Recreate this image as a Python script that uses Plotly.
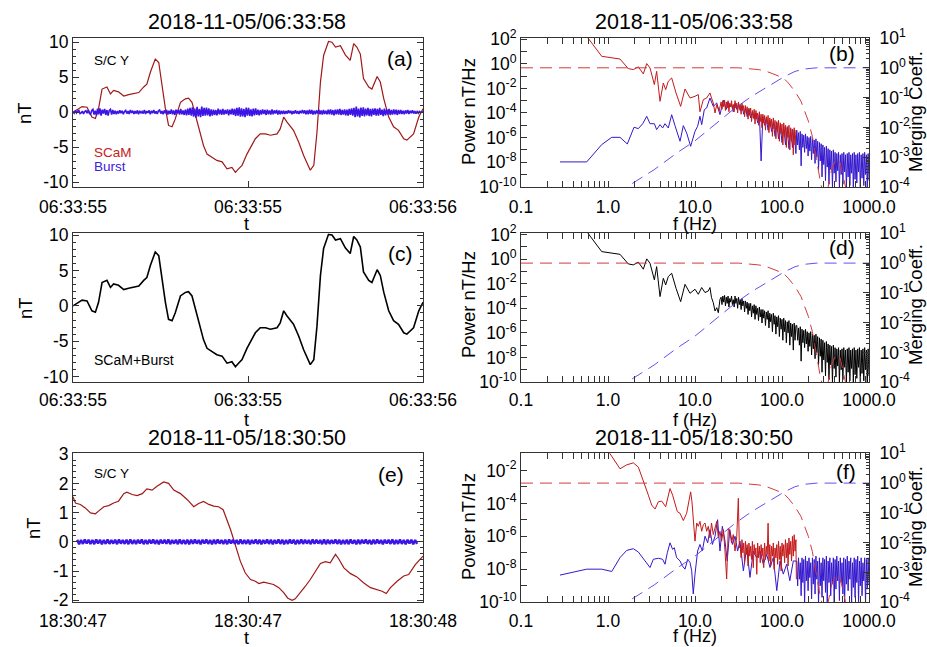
import numpy as np
import plotly.graph_objects as go

# ---------------- data ----------------
# Panel (a)/(c): 2018-11-05/06:33:55 interval, S/C Y component, nT
scam_a_t = [0, 0.026, 0.04, 0.054, 0.064, 0.073, 0.083, 0.097, 0.107, 0.116,
            0.13, 0.145, 0.159, 0.173, 0.188, 0.202, 0.211, 0.221, 0.235, 0.245,
            0.254, 0.264, 0.273, 0.283, 0.292, 0.307, 0.321, 0.33, 0.34, 0.35,
            0.364, 0.373, 0.383, 0.397, 0.411, 0.426, 0.44, 0.454, 0.464, 0.473,
            0.483, 0.497, 0.511, 0.521, 0.535, 0.55, 0.564, 0.583, 0.592, 0.602,
            0.611, 0.63, 0.645, 0.659, 0.678, 0.688, 0.697, 0.707, 0.716, 0.73,
            0.74, 0.75, 0.764, 0.778, 0.792, 0.802, 0.811, 0.821, 0.83, 0.845,
            0.854, 0.869, 0.878, 0.888, 0.902, 0.916, 0.93, 0.945, 0.954, 0.973,
            0.988, 1.0]
scam_a_nT = [0, 0.8, 0.7, -0.7, -0.9, 0.5, 3.3, 3.6, 2.6, 3.1,
             2.9, 2.3, 2.5, 2.6, 2.8, 3.6, 4.0, 5.7, 7.6, 7.1,
             3.8, 0.5, -1.9, -2.1, -1.0, 1.4, 1.9, 2.0, 1.4, -0.5,
             -3.3, -4.8, -6.0, -6.4, -6.9, -7.1, -8.1, -7.9, -8.6, -8.1,
             -7.6, -6.0, -4.8, -3.8, -3.1, -3.1, -3.3, -3.1, -2.4, -0.7,
             -1.4, -2.6, -4.3, -6.2, -8.3, -7.6, -2.9, 4.3, 8.1, 10.1,
             10.0, 9.3, 9.5, 8.2, 7.4, 9.8, 9.3, 8.3, 4.8, 3.6,
             3.3, 5.1, 4.3, 1.9, -0.7, -2.1, -2.6, -3.8, -4.0, -3.1,
             -0.7, 0.5]
burst_a_nT = [
    0.05, -0.15, 0.2, -0.1, 0.15, 0.25, -0.2, -0.1, 0.15, -0.25, 0.1, 0.2, -0.15, 0.3, -0.2, -0.3, 0.25, 0.4, -0.35, 0.2,
    -0.45, 0.5, -0.3, 0.55, -0.5, 0.35, -0.2, 0.45, -0.4, 0.3, -0.5, 0.25, 0.4, -0.35, 0.3, -0.25, 0.2, -0.3, 0.15, -0.2,
    0.25, -0.15, 0.2, -0.3, 0.1, 0.25, -0.2, 0.15, -0.25, 0.3, -0.1, 0.2, -0.25, 0.15, -0.2, 0.25, -0.3, 0.2, -0.15, 0.1,
    -0.2, 0.3, -0.25, 0.15, -0.1, 0.25, -0.3, 0.2, -0.15, 0.3, -0.2, 0.1, -0.25, 0.2, 0.3, -0.2, 0.15, -0.3, 0.25, -0.15,
    0.3, -0.35, 0.2, -0.25, 0.4, -0.3, 0.25, -0.4, 0.35, -0.2, 0.3, -0.35, 0.45, -0.3, 0.25, -0.4, 0.35, -0.45, 0.5, -0.4,
    0.6, -0.5, 0.7, -0.65, 0.5, -0.8, 0.75, -0.6, 0.45, -0.7, 0.8, -0.55, 0.6, -0.5, 0.65, -0.45, 0.55, -0.6, 0.4, -0.5,
    0.35, -0.4, 0.3, -0.45, 0.5, -0.3, 0.35, -0.4, 0.45, -0.35, 0.3, -0.25, 0.4, -0.45, 0.35, -0.3, 0.5, -0.4, 0.45, -0.55,
    0.6, -0.5, 0.7, -0.65, 0.55, -0.6, 0.45, -0.7, 0.65, -0.5, 0.6, -0.55, 0.4, -0.6, 0.5, -0.45, 0.55, -0.4, 0.35, -0.45,
    0.3, -0.35, 0.4, -0.25, 0.3, -0.4, 0.35, -0.3, 0.25, -0.35, 0.4, -0.3, 0.25, -0.2, 0.3, -0.35, 0.25, -0.3, 0.2, -0.25,
    0.2, -0.25, 0.15, -0.2, 0.25, -0.15, 0.2, -0.3, 0.15, -0.2, 0.25, -0.2, 0.15, -0.25, 0.2, -0.15, 0.3, -0.2, 0.25, -0.3,
    0.25, -0.3, 0.35, -0.25, 0.3, -0.35, 0.2, -0.3, 0.25, -0.2, 0.35, -0.3, 0.25, -0.35, 0.3, -0.25, 0.2, -0.3, 0.35, -0.3,
    0.4, -0.35, 0.3, -0.45, 0.35, -0.3, 0.4, -0.35, 0.45, -0.4, 0.3, -0.35, 0.4, -0.45, 0.35, -0.5, 0.45, -0.4, 0.55, -0.5,
    0.6, -0.7, 0.8, -0.6, 0.5, -0.75, 0.65, -0.55, 0.7, -0.6, 0.5, -0.45, 0.6, -0.55, 0.45, -0.6, 0.5, -0.4, 0.55, -0.5,
    0.45, -0.5, 0.6, -0.4, 0.35, -0.55, 0.5, -0.45, 0.4, -0.35, 0.45, -0.4, 0.3, -0.35, 0.4, -0.3, 0.35, -0.4, 0.3, -0.25,
    0.3, -0.25, 0.2, -0.3, 0.25, -0.2, 0.3, -0.25, 0.2, -0.15, 0.25, -0.2, 0.15, -0.2, 0.1, -0.15, 0.1, -0.05, 0.05, 0.0]
# merged SCaM+Burst series (c) is indistinguishable from the SCaM trace at this scale
merged_c_t = scam_a_t
merged_c_nT = scam_a_nT

# Panel (e): 2018-11-05/18:30:47 interval
scam_e_t = [0, 0.007, 0.021, 0.035, 0.05, 0.064, 0.073, 0.088, 0.102, 0.116,
            0.13, 0.145, 0.154, 0.169, 0.183, 0.198, 0.211, 0.226, 0.24, 0.259,
            0.273, 0.288, 0.307, 0.326, 0.345, 0.359, 0.373, 0.388, 0.402, 0.416,
            0.429, 0.44, 0.45, 0.459, 0.469, 0.478, 0.492, 0.507, 0.521, 0.531,
            0.545, 0.559, 0.573, 0.588, 0.602, 0.613, 0.626, 0.635, 0.65, 0.664,
            0.678, 0.692, 0.707, 0.721, 0.735, 0.75, 0.759, 0.774, 0.792, 0.811,
            0.83, 0.85, 0.869, 0.883, 0.895, 0.907, 0.926, 0.945, 0.959, 0.978, 1.0]
scam_e_nT = [1.54, 1.33, 1.28, 1.16, 0.99, 0.96, 1.05, 1.2, 1.24, 1.33,
             1.39, 1.65, 1.7, 1.62, 1.58, 1.65, 1.81, 1.77, 1.9, 2.05,
             2.0, 1.77, 1.65, 1.45, 1.2, 1.31, 1.38, 1.28, 1.22, 1.2,
             1.1, 0.76, 0.42, 0.08, -0.32, -0.66, -1.06, -1.29, -1.35, -1.43,
             -1.38, -1.43, -1.46, -1.57, -1.74, -1.92, -2.0, -1.95, -1.74, -1.52,
             -1.29, -1.0, -0.74, -0.68, -0.72, -0.43, -0.58, -0.89, -1.08, -1.2,
             -1.4, -1.57, -1.63, -1.69, -1.77, -1.57, -1.35, -1.17, -1.12, -0.78, -0.49]
burst_e_nT = [0.07, -0.08, 0.06, -0.07, 0.08, -0.06, 0.07, -0.07, 0.06, -0.08,
              0.08, -0.06, 0.07, -0.08, 0.06, -0.07, 0.08, -0.07, 0.06, -0.06,
              0.07, -0.08, 0.08, -0.06, 0.06, -0.07, 0.07, -0.08, 0.08, -0.07,
              0.06, -0.07, 0.07, -0.06, 0.08, -0.08, 0.06, -0.07, 0.07, -0.06,
              0.08, -0.07, 0.06, -0.08, 0.07, -0.06, 0.07, -0.07, 0.08, -0.08,
              0.06, -0.06, 0.07, -0.08, 0.08, -0.07, 0.06, -0.07, 0.07, -0.08,
              0.07, -0.07, 0.08, -0.06, 0.06, -0.08, 0.07, -0.06, 0.08, -0.07,
              0.06, -0.08, 0.07, -0.07, 0.08, -0.06, 0.06, -0.07, 0.07, -0.08,
              0.08, -0.06, 0.07, -0.07, 0.06, -0.08, 0.08, -0.07, 0.06, -0.07,
              0.07, -0.08, 0.06, -0.06, 0.08, -0.07, 0.07, -0.08, 0.06, -0.06,
              0.08, -0.07, 0.07, -0.08, 0.06, -0.06, 0.08, -0.07, 0.07, -0.08,
              0.06, -0.07, 0.08, -0.06, 0.07, -0.08, 0.06, -0.07, 0.08, -0.07,
              0.07, -0.06, 0.06, -0.08, 0.08, -0.07, 0.07, -0.06, 0.06, -0.08,
              0.08, -0.08, 0.07, -0.07, 0.06, -0.06, 0.08, -0.07, 0.07, -0.08,
              0.06, -0.07, 0.07, -0.08, 0.08, -0.06, 0.06, -0.08, 0.07, -0.07,
              0.07, -0.06, 0.08, -0.07, 0.06, -0.08, 0.07, -0.07, 0.08, -0.06,
              0.06, -0.08, 0.07, -0.06, 0.07, -0.07, 0.08, -0.08, 0.06, -0.07,
              0.08, -0.07, 0.06, -0.08, 0.07, -0.06, 0.07, -0.08, 0.06, -0.07]

# ---- Spectra: log10 frequency (Hz) and log10 power (nT^2/Hz) ----
# dense frequency grids of the noisy parts
grid_mid_logf = [1.30, 1.31, 1.32, 1.33, 1.34, 1.35, 1.36, 1.37, 1.38, 1.39,
                 1.40, 1.41, 1.42, 1.43, 1.44, 1.45, 1.46, 1.47, 1.48, 1.49,
                 1.50, 1.51, 1.52, 1.53, 1.54, 1.55, 1.56, 1.57, 1.58, 1.59,
                 1.60, 1.61, 1.62, 1.63, 1.64, 1.65, 1.66, 1.67, 1.68, 1.69,
                 1.70, 1.71, 1.72, 1.73, 1.74, 1.75, 1.76, 1.77, 1.78, 1.79,
                 1.80, 1.81, 1.82, 1.83, 1.84, 1.85, 1.86, 1.87, 1.88, 1.89,
                 1.90, 1.91, 1.92, 1.93, 1.94, 1.95, 1.96, 1.97, 1.98, 1.99,
                 2.00, 2.01, 2.02, 2.03, 2.04, 2.05, 2.06, 2.07, 2.08, 2.09,
                 2.10, 2.11, 2.12, 2.13, 2.14, 2.15, 2.16]
grid_high_logf = [2.17, 2.18, 2.19, 2.20, 2.21, 2.22, 2.23, 2.24, 2.25, 2.26,
                  2.27, 2.28, 2.29, 2.30, 2.31, 2.32, 2.33, 2.34, 2.35, 2.36,
                  2.37, 2.38, 2.39, 2.40, 2.41, 2.42, 2.43, 2.44, 2.45, 2.46,
                  2.47, 2.48, 2.49, 2.50, 2.51, 2.52, 2.53, 2.54, 2.55, 2.56,
                  2.57, 2.58, 2.59, 2.60, 2.61, 2.62, 2.63, 2.64, 2.65, 2.66,
                  2.67, 2.68, 2.69, 2.70, 2.71, 2.72, 2.73, 2.74, 2.75, 2.76,
                  2.77, 2.78, 2.79, 2.80, 2.81, 2.82, 2.83, 2.84, 2.85, 2.86,
                  2.87, 2.88, 2.89, 2.90, 2.91, 2.92, 2.93, 2.94, 2.95, 2.96,
                  2.97, 2.98, 2.99, 3.00]

# (b) SCaM
spec_b_scam_lf_logf = [-0.245, -0.072, 0.138, 0.233, 0.291, 0.349, 0.406, 0.445, 0.483, 0.533,
                       0.559, 0.598, 0.636, 0.663, 0.693, 0.732, 0.782, 0.835, 0.885, 0.943,
                       1.0, 1.038, 1.057, 1.077, 1.096, 1.134, 1.172, 1.19, 1.21, 1.23,
                       1.25, 1.276]
spec_b_scam_lf_logp = [2.24, 0.61, 0.39, -0.39, -0.47, -0.25, -0.82, 0.02, -0.34, -1.69,
                       -0.61, -3.05, -1.56, -2.1, -1.42, -1.15, -2.37, -3.46, -2.05, -2.78,
                       -2.64, -2.5, -3.9, -3.32, -2.91, -2.78, -2.37, -2.78, -3.18, -4.0,
                       -3.32, -3.86]
spec_b_scam_mid_logp = [-3.1, -3.7, -3.0, -3.5, -2.95, -3.8, -3.1, -3.6, -3.0, -3.9,
                        -3.2, -3.5, -3.0, -3.7, -3.3, -3.9, -3.0, -3.6, -3.2, -4.0,
                        -3.1, -3.7, -3.3, -4.1, -3.2, -3.8, -3.4, -4.3, -3.4, -4.0,
                        -3.5, -4.5, -3.6, -4.2, -3.6, -4.7, -3.8, -4.4, -3.7, -4.9,
                        -3.8, -4.5, -4.0, -5.0, -3.9, -4.7, -4.1, -5.2, -4.1, -4.8,
                        -4.2, -5.4, -4.3, -4.9, -4.2, -5.6, -4.4, -5.1, -4.5, -5.9,
                        -4.4, -5.3, -4.6, -6.1, -4.7, -5.5, -4.6, -6.3, -4.8, -5.7,
                        -4.9, -6.6, -4.8, -5.9, -5.0, -6.8, -5.1, -6.0, -5.0, -7.0,
                        -5.2, -6.3, -5.3, -7.4, -5.2, -6.6, -5.4]
# (b) Burst
spec_b_burst_lf_logf = [-0.552, -0.245, -0.072, 0.043, 0.138, 0.222, 0.299, 0.349, 0.399, 0.445,
                        0.483, 0.533, 0.559, 0.598, 0.628, 0.655, 0.693, 0.732, 0.77, 0.789,
                        0.828, 0.866, 0.904, 0.95, 1.0, 1.03, 1.057, 1.077, 1.107, 1.134,
                        1.172, 1.21, 1.25, 1.287, 1.326, 1.36, 1.38, 1.40, 1.42, 1.44,
                        1.46, 1.48, 1.50, 1.52, 1.54, 1.56, 1.58, 1.60, 1.62, 1.64,
                        1.66, 1.68, 1.70, 1.72, 1.74, 1.76, 1.78, 1.80, 1.82, 1.84,
                        1.86, 1.88, 1.90, 1.92, 1.94, 1.96, 1.98, 2.00, 2.02, 2.04,
                        2.06, 2.08, 2.10, 2.12, 2.14, 2.16]
spec_b_burst_lf_logp = [-7.98, -7.98, -6.57, -5.98, -5.98, -6.52, -5.16, -5.27, -4.87, -4.27,
                        -4.87, -4.87, -5.35, -4.95, -5.22, -4.87, -5.22, -4.14, -5.03, -5.49,
                        -6.3, -5.03, -5.62, -6.71, -5.49, -5.08, -4.27, -4.95, -3.73, -3.59,
                        -2.78, -3.46, -3.18, -4.13, -2.97, -3.7, -3.1, -3.5, -3.3, -3.9,
                        -3.2, -3.7, -3.3, -3.8, -3.4, -4.1, -3.6, -4.3, -3.7, -4.4,
                        -3.9, -4.5, -4.0, -4.8, -4.1, -7.9, -4.3, -5.0, -4.4, -5.4,
                        -4.6, -5.5, -4.7, -5.9, -4.8, -6.1, -5.0, -6.4, -5.1, -6.6,
                        -5.2, -6.9, -5.3, -6.8, -5.4, -7.3]
spec_b_burst_hf_logp = [-5.4, -6.6, -5.6, -7.0, -5.5, -8.3, -5.7, -6.8, -5.8, -7.2,
                        -5.7, -6.9, -5.9, -7.5, -6.0, -7.1, -5.9, -7.8, -6.1, -7.3,
                        -6.2, -8.1, -6.1, -7.6, -6.3, -8.6, -6.4, -7.9, -6.5, -9.2,
                        -6.6, -8.2, -6.8, -9.5, -6.7, -8.4, -6.9, -9.8, -7.0, -8.6,
                        -7.1, -10.1, -7.0, -8.9, -7.2, -9.6, -7.3, -8.7, -7.2, -10.1,
                        -7.4, -9.0, -7.3, -9.8, -7.2, -8.8, -7.4, -10.1, -7.3, -9.2,
                        -7.2, -9.9, -7.4, -8.9, -7.3, -10.1, -7.2, -9.4, -7.4, -9.7,
                        -7.3, -8.8, -7.2, -10.1, -7.4, -9.3, -7.3, -9.9, -7.2, -9.0,
                        -7.4, -10.1, -7.3, -9.5]

# (d) merged SCaM+Burst: its own low-frequency part; above 20 Hz it follows the
# SCaM band (b) and above 150 Hz the Burst band (b)
spec_d_merged_lf_logf = [-0.245, -0.072, 0.138, 0.233, 0.291, 0.349, 0.406, 0.445, 0.483, 0.533,
                         0.559, 0.598, 0.636, 0.663, 0.693, 0.732, 0.782, 0.835, 0.885, 0.943,
                         1.0, 1.038, 1.077, 1.115, 1.153, 1.172, 1.19, 1.21, 1.23, 1.25,
                         1.268, 1.287]
spec_d_merged_lf_logp = [2.24, 0.61, 0.39, -0.39, -0.47, -0.25, -0.82, 0.02, -0.34, -1.69,
                         -0.61, -3.05, -1.56, -2.1, -1.42, -1.15, -2.37, -3.46, -2.05, -2.78,
                         -2.45, -2.86, -2.31, -2.72, -2.59, -2.31, -3.13, -3.54, -4.22, -3.95,
                         -4.36, -3.27]

# (f) SCaM
spec_f_scam_lf_logf = [-0.1, 0.023, 0.138, 0.215, 0.291, 0.349, 0.406, 0.464, 0.502, 0.541,
                       0.579, 0.617, 0.663, 0.713, 0.743, 0.77, 0.797, 0.828, 0.866, 0.904,
                       0.95, 0.965, 1.0, 1.02, 1.038, 1.057, 1.077, 1.096, 1.115, 1.134,
                       1.153, 1.172, 1.19, 1.21, 1.23, 1.25, 1.268, 1.287, 1.306, 1.326,
                       1.345, 1.364, 1.383, 1.40, 1.42, 1.44, 1.46, 1.48, 1.498, 1.51]
spec_f_scam_lf_logp = [0.0, -1.0, -1.9, -1.66, -1.54, -1.8, -2.6, -3.5, -4.1, -4.34,
                       -3.9, -3.86, -4.2, -3.1, -3.5, -4.0, -4.5, -4.6, -5.04, -4.6,
                       -3.3, -3.9, -6.29, -5.19, -5.39, -5.09, -5.69, -5.29, -5.19, -5.69,
                       -5.39, -6.09, -5.19, -5.89, -5.39, -5.09, -6.09, -5.69, -6.29, -5.59,
                       -6.89, -8.59, -5.49, -5.69, -6.39, -5.89, -6.89, -5.99, -3.69, -6.69]
spec_f_scam_mid_logf = [1.52, 1.53, 1.54, 1.55, 1.56, 1.57, 1.58, 1.59, 1.60, 1.61,
                        1.62, 1.63, 1.64, 1.65, 1.66, 1.67, 1.68, 1.69, 1.70, 1.71,
                        1.72, 1.73, 1.74, 1.75, 1.76, 1.77, 1.78, 1.79, 1.80, 1.81,
                        1.82, 1.83, 1.84, 1.85, 1.86, 1.87, 1.88, 1.89, 1.90, 1.91,
                        1.92, 1.93, 1.94, 1.95, 1.96, 1.97, 1.98, 1.99, 2.00, 2.01,
                        2.02, 2.03, 2.04, 2.05, 2.06, 2.07, 2.08, 2.09, 2.10, 2.11,
                        2.12, 2.13, 2.14, 2.15, 2.16, 2.165]
spec_f_scam_mid_logp = [-6.6, -7.3, -6.2, -7.0, -6.4, -7.6, -6.3, -7.1, -6.5, -7.8,
                        -6.4, -7.2, -6.6, -7.4, -6.3, -7.9, -6.5, -7.1, -6.7, -8.3,
                        -6.4, -7.3, -6.6, -7.6, -6.5, -7.2, -6.7, -7.9, -6.4, -7.4,
                        -6.6, -7.1, -5.2, -7.5, -6.5, -7.8, -6.6, -7.2, -6.4, -8.0,
                        -6.7, -7.3, -6.5, -7.7, -6.3, -7.4, -6.6, -8.1, -6.4, -7.2,
                        -6.5, -7.6, -6.2, -7.3, -6.4, -7.8, -6.1, -7.1, -6.3, -7.5,
                        -6.0, -7.2, -5.9, -6.9, -6.2, -8.6]
# (f) Burst
spec_f_burst_lf_logf = [-0.552, -0.245, -0.072, 0.043, 0.138, 0.215, 0.291, 0.349, 0.426, 0.483,
                        0.521, 0.579, 0.628, 0.655, 0.682, 0.713, 0.743, 0.762, 0.789, 0.828,
                        0.854, 0.885, 0.916, 0.943, 0.962, 0.98, 1.0, 1.03, 1.057, 1.084,
                        1.115, 1.146, 1.172, 1.2, 1.23, 1.26, 1.287, 1.314, 1.345, 1.37,
                        1.4, 1.43, 1.46, 1.49, 1.517, 1.556, 1.594, 1.632, 1.67, 1.709,
                        1.747, 1.785, 1.824, 1.862, 1.9, 1.94, 1.977, 2.015, 2.054, 2.09,
                        2.13]
spec_f_burst_lf_logp = [-8.35, -7.99, -7.99, -8.13, -7.29, -6.85, -6.75, -6.95, -7.49, -7.89,
                        -7.39, -7.33, -7.39, -7.69, -6.99, -6.39, -6.79, -6.69, -7.29, -7.49,
                        -7.79, -7.99, -7.39, -7.59, -8.09, -9.49, -8.29, -6.89, -6.49, -6.89,
                        -5.99, -6.39, -5.59, -6.49, -5.99, -4.99, -6.89, -5.39, -6.29, -7.49,
                        -5.59, -6.49, -5.99, -6.89, -6.29, -8.09, -6.69, -8.49, -6.89, -7.29,
                        -6.89, -7.69, -7.09, -7.89, -7.29, -9.29, -7.49, -8.29, -7.69, -8.69,
                        -7.49]
spec_f_burst_hf_logp = [-7.5, -9.0, -7.3, -8.6, -7.6, -9.6, -7.3, -8.8, -7.4, -10.1,
                        -7.2, -8.7, -7.5, -9.3, -7.3, -8.5, -7.6, -9.8, -7.3, -8.9,
                        -7.4, -9.5, -7.2, -8.6, -7.5, -10.1, -7.3, -9.0, -7.6, -9.7,
                        -7.3, -8.7, -7.4, -9.4, -7.2, -10.1, -7.5, -8.8, -7.3, -9.6,
                        -7.6, -8.9, -7.3, -10.1, -7.4, -9.2, -7.2, -8.7, -7.5, -9.9,
                        -7.3, -8.8, -7.6, -9.5, -7.3, -10.1, -7.4, -8.9, -7.2, -9.3,
                        -7.5, -8.6, -7.3, -10.1, -7.6, -9.1, -7.3, -9.7, -7.4, -8.8,
                        -7.2, -10.1, -7.5, -9.0, -7.3, -9.6, -7.6, -8.7, -7.3, -10.1,
                        -7.4, -9.2, -7.3, -8.9]

# Merging coefficients (log10), shared by panels (b), (d), (f)
coef_low_logf = [-1.0, 1.5, 1.728, 1.805, 1.92, 2.015, 2.073, 2.149, 2.218, 2.264,
                 2.303, 2.349, 2.38, 2.41, 2.437, 2.456, 2.49, 2.53, 2.57, 2.61,
                 2.64, 2.67, 2.70, 2.73, 2.76, 2.82, 2.87, 2.92, 2.97, 3.0]
coef_low_logc = [0.0, 0.0, -0.06, -0.1, -0.23, -0.34, -0.51, -0.79, -1.12, -1.46,
                 -1.79, -2.3, -2.75, -3.3, -3.75, -4.0, -5.0, -4.0, -3.42, -3.14,
                 -3.05, -3.2, -3.6, -4.0, -5.0, -4.2, -3.95, -4.1, -4.6, -5.0]
coef_high_logf = [0.1, 0.215, 0.53, 0.8, 1.0, 1.23, 1.46, 1.65, 1.88, 2.03, 2.15, 2.26, 2.4, 3.0]
coef_high_logc = [-4.25, -4.0, -3.42, -2.84, -2.45, -1.91, -1.35, -0.96, -0.56, -0.29, -0.12, -0.04, 0.0, 0.0]

time_labels_1 = ["06:33:55", "06:33:55", "06:33:56"]
time_labels_2 = ["18:30:47", "18:30:47", "18:30:48"]
freq_labels = ["0.1", "1.0", "10.0", "100.0", "1000.0"]
title_1 = "2018-11-05/06:33:58"
title_2 = "2018-11-05/18:30:50"

# ---------------- figure ----------------
W, H = 927, 647
FONT = "Liberation Sans, Arial, Helvetica, sans-serif"
RED_TS = "#a01818"
BLUE_TS = "#3c14e6"
RED_SP = "#c41a1a"
BLUE_SP = "#3418cc"
RED_DASH = "#d23c3c"
BLUE_DASH = "#6a4cf0"


def X(p):
    return p / W


def Y(p):
    return 1 - p / H


fig = go.Figure()

p10 = lambda a: np.power(10.0, np.asarray(a, dtype=float))

# (a)
fig.add_trace(go.Scatter(x=scam_a_t, y=scam_a_nT, mode="lines", line=dict(color=RED_TS, width=1.2),
                         xaxis="x", yaxis="y", showlegend=False))
fig.add_trace(go.Scatter(x=np.linspace(0, 1, len(burst_a_nT)), y=burst_a_nT, mode="lines",
                         line=dict(color=BLUE_TS, width=1.6), xaxis="x", yaxis="y", showlegend=False))
# (c)
fig.add_trace(go.Scatter(x=merged_c_t, y=merged_c_nT, mode="lines", line=dict(color="black", width=1.6),
                         xaxis="x3", yaxis="y4", showlegend=False))
# (e)
fig.add_trace(go.Scatter(x=scam_e_t, y=scam_e_nT, mode="lines", line=dict(color=RED_TS, width=1.2),
                         xaxis="x5", yaxis="y7", showlegend=False))
fig.add_trace(go.Scatter(x=np.linspace(0.012, 0.983, len(burst_e_nT)), y=burst_e_nT, mode="lines",
                         line=dict(color=BLUE_TS, width=2.4), xaxis="x5", yaxis="y7", showlegend=False))


# spectra
def spec(logf, logp, color, xa, ya, w=1.0):
    fig.add_trace(go.Scatter(x=p10(logf), y=p10(logp), mode="lines", line=dict(color=color, width=w),
                             xaxis=xa, yaxis=ya, showlegend=False))


def coefs(xa, ya):
    fig.add_trace(go.Scatter(x=p10(coef_low_logf), y=p10(coef_low_logc), mode="lines",
                             line=dict(color=RED_DASH, width=1, dash="12px,7px"),
                             xaxis=xa, yaxis=ya, showlegend=False))
    fig.add_trace(go.Scatter(x=p10(coef_high_logf), y=p10(coef_high_logc), mode="lines",
                             line=dict(color=BLUE_DASH, width=1, dash="12px,7px"),
                             xaxis=xa, yaxis=ya, showlegend=False))


spec(spec_b_burst_lf_logf + grid_high_logf, spec_b_burst_lf_logp + spec_b_burst_hf_logp, BLUE_SP, "x2", "y2")
spec(spec_b_scam_lf_logf + grid_mid_logf, spec_b_scam_lf_logp + spec_b_scam_mid_logp, RED_SP, "x2", "y2")
coefs("x2", "y3")
spec(spec_d_merged_lf_logf + grid_mid_logf + grid_high_logf,
     spec_d_merged_lf_logp + spec_b_scam_mid_logp + spec_b_burst_hf_logp, "black", "x4", "y5")
coefs("x4", "y6")
spec(spec_f_burst_lf_logf + grid_high_logf, spec_f_burst_lf_logp + spec_f_burst_hf_logp, BLUE_SP, "x6", "y8")
spec(spec_f_scam_lf_logf + spec_f_scam_mid_logf, spec_f_scam_lf_logp + spec_f_scam_mid_logp, RED_SP, "x6", "y8")
coefs("x6", "y9")

# ---------------- axes ----------------
LINE = "#333333"
TICKF = dict(family=FONT, size=17.5, color="black")
base = dict(showgrid=False, zeroline=False, showline=True, linecolor=LINE, linewidth=1,
            ticks="inside", ticklen=6, tickcolor=LINE, tickfont=TICKF, automargin=False)

xl = [X(73), X(423)]
xr = [X(521), X(869)]
rows = [[Y(187), Y(38)], [Y(382.3), Y(233.3)], [Y(602.3), Y(453.3)]]

minor_log_x = [k * 10.0 ** d for d in range(-1, 3) for k in range(2, 10)]
minor_log_c = [k * 10.0 ** d for d in range(-4, 1) for k in range(2, 10)]


def time_axis(labels, dom, anchor, standoff):
    return dict(base, domain=dom, anchor=anchor, range=[0, 1], tickmode="array",
                tickvals=[0, 0.5, 1], ticktext=labels, mirror=True, ticklabelstandoff=standoff)


def lin_y(dom, anchor, rng, vals):
    return dict(base, domain=dom, anchor=anchor, range=rng, tickmode="array", tickvals=vals,
                ticktext=[str(v) for v in vals], mirror="allticks",
                minor=dict(ticks="inside", ticklen=3, tickcolor=LINE, dtick=1 if rng[1] > 5 else 0.2))


def log_x(dom, anchor, standoff):
    return dict(base, type="log", domain=dom, anchor=anchor, range=[-1, 3], tickmode="array",
                tickvals=[0.1, 1, 10, 100, 1000], ticktext=freq_labels, mirror="allticks",
                ticklabelstandoff=standoff,
                minor=dict(ticks="inside", ticklen=3, tickcolor=LINE, tickmode="array", tickvals=minor_log_x))


def log_y(dom, anchor, lo, hi):
    vals = [10.0 ** k for k in range(lo, hi + 1)]
    txt = ["10<sup>%d</sup>" % k if k % 2 == 0 else "" for k in range(lo, hi + 1)]
    return dict(base, type="log", domain=dom, anchor=anchor, tickmode="array", tickvals=vals, ticktext=txt)


def coef_y(over, anchor):
    vals = [10.0 ** k for k in range(-4, 2)]
    txt = ["10<sup>%d</sup>" % k for k in range(-4, 2)]
    return dict(base, type="log", overlaying=over, anchor=anchor, side="right", range=[-4, 1],
                tickmode="array", tickvals=vals, ticktext=txt, ticklabelstandoff=6,
                minor=dict(ticks="inside", ticklen=3, tickcolor=LINE, tickmode="array", tickvals=minor_log_c))


fig.update_layout(
    xaxis=time_axis(time_labels_1, xl, "y", 4),
    yaxis=lin_y(rows[0], "x", [-10.7, 10.6], [-10, -5, 0, 5, 10]),
    xaxis2=log_x(xr, "y2", 4),
    yaxis2=dict(log_y(rows[0], "x2", -10, 2), range=[-10.02, 2.1]),
    yaxis3=coef_y("y2", "x2"),
    xaxis3=time_axis(time_labels_1, xl, "y4", 2),
    yaxis4=lin_y(rows[1], "x3", [-10.8, 10.25], [-10, -5, 0, 5, 10]),
    xaxis4=log_x(xr, "y5", 2),
    yaxis5=dict(log_y(rows[1], "x4", -10, 2), range=[-10.02, 2.1]),
    yaxis6=coef_y("y5", "x4"),
    xaxis5=time_axis(time_labels_2, xl, "y7", 3),
    yaxis7=lin_y(rows[2], "x5", [-2.07, 3.03], [-2, -1, 0, 1, 2, 3]),
    xaxis6=log_x(xr, "y8", 3),
    yaxis8=dict(log_y(rows[2], "x6", -10, -1), range=[-10.0, -0.96]),
    yaxis9=coef_y("y8", "x6"),
)

# ---------------- text ----------------
anns = []


def ann(text, x, y, size, color="black", xanchor="center", angle=0):
    anns.append(dict(text=text, x=X(x), y=Y(y), xref="paper", yref="paper", showarrow=False,
                     xanchor=xanchor, yanchor="middle", textangle=angle,
                     font=dict(family=FONT, size=size, color=color)))


for xc in (247, 694):
    ann(title_1, xc, 22, 21.5)
    ann(title_2, xc, 438, 21.5)

ann("(a)", 400, 59, 21)
ann("(b)", 842, 53, 21)
ann("(c)", 400, 253, 21)
ann("(d)", 842, 248, 21)
ann("(e)", 391, 474, 21)
ann("(f)", 846, 471, 21)
ann("S/C Y", 92, 60, 13.5, xanchor="left")
ann("S/C Y", 92, 473, 13.5, xanchor="left")
ann("SCaM", 92, 152, 13.5, color="#c82020", xanchor="left")
ann("Burst", 92, 166, 13.5, color="#4020e0", xanchor="left")
ann("SCaM+Burst", 92, 360, 14, xanchor="left")

for yc in (224, 420, 638):
    ann("t", 247, yc, 18)
for yc in (224, 420, 636):
    ann("f (Hz)", 695, yc, 18)
ann("nT", 25, 113, 18.5, angle=-90)
ann("nT", 25, 308, 18.5, angle=-90)
ann("nT", 33, 528, 18.5, angle=-90)
for yc in (112, 305, 527):
    ann("Power nT/Hz", 468, yc, 18.5, angle=-90)
    ann("Merging Coeff.", 915, yc, 18.5, angle=-90)

fig.update_layout(annotations=anns, width=W, height=H,
                  margin=dict(l=0, r=0, t=0, b=0, pad=0, autoexpand=False),
                  paper_bgcolor="white", plot_bgcolor="white", showlegend=False,
                  font=dict(family=FONT))

fig.write_html("out.html")
